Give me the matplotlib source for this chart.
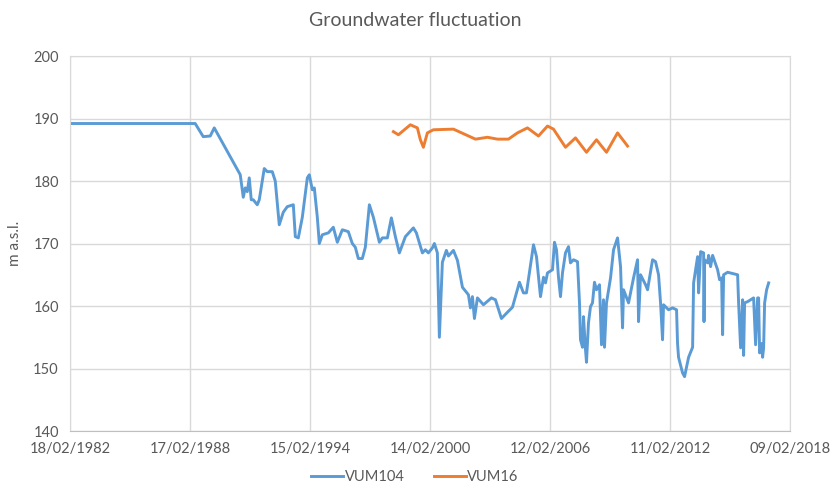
import matplotlib
matplotlib.use("Agg")
import matplotlib.pyplot as plt
import pandas as pd

# decimal years
vum104_years = [
    1982.14, 1988.39, 1988.79, 1989.14, 1989.34, 1990.64, 1990.79, 1990.89, 1990.99, 1991.09,
    1991.19, 1991.29, 1991.49, 1991.59, 1991.84, 1991.99, 1992.24, 1992.39, 1992.59, 1992.79,
    1992.99, 1993.29, 1993.39, 1993.54, 1993.74, 1993.99, 1994.09, 1994.24, 1994.34, 1994.49,
    1994.59, 1994.74, 1995.04, 1995.29, 1995.49, 1995.74, 1996.04, 1996.24, 1996.39, 1996.54,
    1996.74, 1996.89, 1997.09, 1997.29, 1997.59, 1997.74, 1997.99, 1998.19, 1998.39, 1998.59,
    1998.89, 1999.29, 1999.44, 1999.74, 1999.89, 2000.04, 2000.24, 2000.34, 2000.49, 2000.59,
    2000.74, 2000.94, 2001.04, 2001.29, 2001.49, 2001.74, 2002.04, 2002.14, 2002.24, 2002.34,
    2002.49, 2002.79, 2003.19, 2003.39, 2003.69, 2003.99, 2004.24, 2004.59, 2004.79, 2004.94,
    2005.29, 2005.44, 2005.64, 2005.79, 2005.89, 2005.99, 2006.24, 2006.34, 2006.44, 2006.54,
    2006.64, 2006.74, 2006.89, 2007.04, 2007.14, 2007.29, 2007.49, 2007.59, 2007.64, 2007.74,
    2007.79, 2007.89, 2007.94, 2008.04, 2008.14, 2008.24, 2008.34, 2008.44, 2008.59, 2008.69,
    2008.79, 2008.84, 2008.94, 2009.14, 2009.29, 2009.49, 2009.64, 2009.74, 2009.79, 2010.04,
    2010.29, 2010.49, 2010.54, 2010.64, 2010.89, 2010.99, 2011.24, 2011.39, 2011.54, 2011.64,
    2011.74, 2011.79, 2012.04, 2012.24, 2012.44, 2012.49, 2012.54, 2012.74, 2012.84, 2013.04,
    2013.24, 2013.29, 2013.49, 2013.54, 2013.64, 2013.79, 2013.81, 2013.84, 2013.99, 2014.04,
    2014.14, 2014.24, 2014.49, 2014.59, 2014.69, 2014.74, 2014.79, 2014.99, 2015.49, 2015.54,
    2015.64, 2015.74, 2015.79, 2015.84, 2015.99, 2016.29, 2016.39, 2016.49, 2016.54, 2016.59,
    2016.69, 2016.74, 2016.79, 2016.84, 2016.94, 2017.04,
]
vum104_levels = [
    189.2, 189.2, 187.1, 187.2, 188.5, 181.0, 177.4, 178.9, 178.3, 180.5,
    177.0, 177.0, 176.2, 177.0, 182.0, 181.5, 181.5, 180.0, 173.0, 175.0,
    175.9, 176.2, 171.1, 170.9, 174.2, 180.5, 181.0, 178.6, 178.9, 174.2,
    170.0, 171.4, 171.7, 172.6, 170.2, 172.2, 171.9, 170.0, 169.4, 167.6,
    167.6, 169.4, 176.2, 174.2, 170.2, 170.9, 170.9, 174.1, 171.1, 168.5,
    171.1, 172.5, 171.7, 168.5, 169.0, 168.5, 169.3, 170.0, 168.5, 155.0,
    167.0, 168.9, 168.0, 168.9, 167.3, 163.0, 161.8, 159.7, 161.5, 158.0,
    161.3, 160.2, 161.3, 161.0, 158.0, 159.0, 159.8, 163.8, 162.1, 162.1,
    169.8, 167.9, 161.5, 164.6, 163.7, 165.3, 165.8, 170.2, 169.0, 164.6,
    161.5, 165.3, 168.5, 169.5, 166.9, 167.4, 167.1, 160.5, 154.6, 153.4,
    158.3, 153.0, 151.0, 157.3, 159.9, 160.5, 163.8, 162.6, 163.4, 153.8,
    161.0, 153.4, 160.5, 164.5, 169.0, 170.9, 166.3, 156.5, 162.6, 160.5,
    164.5, 167.4, 157.5, 165.0, 163.4, 162.6, 167.4, 167.1, 165.0, 160.5,
    154.6, 160.2, 159.4, 159.7, 159.4, 154.0, 151.8, 149.3, 148.7, 151.8,
    153.4, 163.7, 167.9, 162.1, 168.7, 168.5, 157.5, 167.4, 166.9, 168.1,
    166.3, 168.1, 165.8, 164.2, 164.5, 155.4, 165.0, 165.4, 165.0, 160.5,
    153.3, 161.0, 152.1, 160.5, 160.7, 161.3, 153.8, 161.3, 161.3, 152.5,
    154.0, 151.8, 153.3, 160.5, 162.6, 163.7,
]

vum16_years = [
    1998.29, 1998.54, 1999.14, 1999.49, 1999.64, 1999.79, 1999.99, 2000.29, 2001.29, 2002.39,
    2002.99, 2003.49, 2004.04, 2004.49, 2004.99, 2005.54, 2005.99, 2006.29, 2006.89, 2007.39,
    2007.94, 2008.44, 2008.94, 2009.49, 2009.99,
]
vum16_levels = [
    187.9, 187.4, 189.0, 188.5, 186.6, 185.4, 187.7, 188.2, 188.3, 186.7,
    187.0, 186.7, 186.7, 187.7, 188.5, 187.2, 188.8, 188.3, 185.4, 186.9,
    184.6, 186.6, 184.6, 187.7, 185.6,
]

tick_labels = ["18/02/1982", "17/02/1988", "15/02/1994", "14/02/2000",
               "12/02/2006", "11/02/2012", "09/02/2018"]
y_ticks = [140, 150, 160, 170, 180, 190, 200]


def to_dates(years):
    out = []
    for y in years:
        base = int(y)
        out.append(pd.Timestamp(base, 1, 1) + pd.Timedelta(days=(y - base) * 365.25))
    return out


grey = "#595959"
grid_c = "#d9d9d9"
plt.rcParams["font.family"] = ["Lato", "DejaVu Sans"]

fig = plt.figure(figsize=(8.3, 4.94), dpi=100)
ax = fig.add_axes([0.0843, 0.1275, 0.8675, 0.7591])

ax.plot(to_dates(vum104_years), vum104_levels, color="#5b9bd5", lw=2.1, label="VUM104")
ax.plot(to_dates(vum16_years), vum16_levels, color="#ed7d31", lw=2.1, label="VUM16")

ticks = pd.to_datetime(tick_labels, format="%d/%m/%Y")
ax.set_xticks(ticks)
ax.set_xticklabels(tick_labels)
ax.set_xlim(ticks[0], ticks[-1])
ax.set_ylim(140, 200)
ax.set_yticks(y_ticks)

ax.grid(True, color=grid_c, lw=1)
ax.set_axisbelow(True)
for s in ax.spines.values():
    s.set_color(grid_c)
ax.spines["bottom"].set_color("#bfbfbf")
ax.tick_params(length=0, colors=grey, labelsize=10.5, pad=8)

ax.set_ylabel("m a.s.l.", color=grey, fontsize=11, labelpad=8)
fig.suptitle("Groundwater fluctuation", color=grey, fontsize=14, y=0.975)

fig.legend(loc="center", bbox_to_anchor=(0.5, 0.034), ncol=2, frameon=False,
           fontsize=10.5, labelcolor=grey, handlelength=2.2, handletextpad=0.1,
           columnspacing=2.0)

fig.savefig("out.png", dpi=100)
